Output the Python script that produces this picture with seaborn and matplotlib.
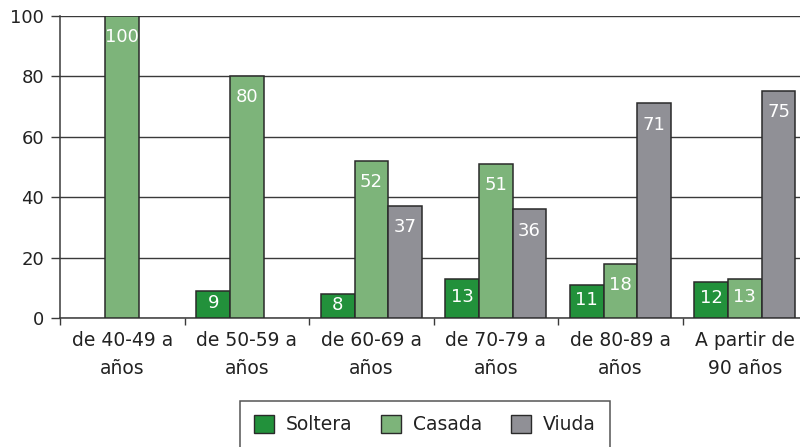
import matplotlib
matplotlib.use("Agg")
import matplotlib.pyplot as plt
import seaborn as sns
import pandas as pd
import numpy as np
from matplotlib.ticker import FixedLocator

categories = ["de 40-49 a\naños", "de 50-59 a\naños", "de 60-69 a\naños",
              "de 70-79 a\naños", "de 80-89 a\naños", "A partir de\n90 años"]
soltera = [np.nan, 9, 8, 13, 11, 12]
casada = [100, 80, 52, 51, 18, 13]
viuda = [np.nan, np.nan, 37, 36, 71, 75]
series_names = ["Soltera", "Casada", "Viuda"]
colors = ["#22913b", "#7db47a", "#909096"]

rows = []
for name, vals in zip(series_names, [soltera, casada, viuda]):
    for c, v in zip(categories, vals):
        rows.append({"cat": c, "serie": name, "val": v})
df = pd.DataFrame(rows)

sns.set_style("white")
plt.rcParams["font.family"] = ["DejaVu Sans"]

fig = plt.figure(figsize=(8, 4.47), dpi=100)
ax = fig.add_axes([0.075, 0.288, 0.934, 0.677])

sns.barplot(data=df, x="cat", y="val", hue="serie", order=categories,
            hue_order=series_names, palette=colors, width=0.81,
            saturation=1, edgecolor="#2a2a2a", linewidth=1.1, ax=ax,
            zorder=3)

for cont in ax.containers:
    for rect, v in zip(cont.patches, cont.datavalues):
        if np.isnan(v):
            continue
        yc = max(v - 7, 0.55 * v)
        ax.text(rect.get_x() + rect.get_width() / 2, yc, f"{v:.0f}",
                ha="center", va="center", color="white", fontsize=13,
                zorder=5)

ax.set_ylim(0, 100)
ax.set_xlim(-0.5, 5.5)
ax.set_yticks([0, 20, 40, 60, 80, 100])
ax.yaxis.grid(True, color="#3a3a3a", linewidth=1.0, zorder=0)
ax.set_axisbelow(True)
ax.tick_params(axis="y", labelsize=13, labelcolor="#222222", length=6.5,
               width=1, color="#3a3a3a", left=True, pad=5)
ax.tick_params(axis="x", which="major", length=0, labelsize=13.5,
               labelcolor="#222222", pad=9.5)
for lbl in ax.get_xticklabels():
    lbl.set_linespacing(1.6)
ax.xaxis.set_minor_locator(FixedLocator([-0.5, 0.5, 1.5, 2.5, 3.5, 4.5, 5.5]))
ax.tick_params(axis="x", which="minor", length=5, width=1, color="#3a3a3a",
               bottom=True)
ax.set_xlabel("")
ax.set_ylabel("")
for s in ["top", "right"]:
    ax.spines[s].set_visible(False)
for s in ["left", "bottom"]:
    ax.spines[s].set_color("#3a3a3a")
    ax.spines[s].set_linewidth(1.1)

ax.legend_.remove()
handles = [plt.Rectangle((0, 0), 1, 1, facecolor=c, edgecolor="#2a2a2a",
                         linewidth=1) for c in colors]
leg = fig.legend(handles, series_names, loc="upper center",
                 bbox_to_anchor=(0.531, 0.103), ncol=3, frameon=True,
                 fontsize=13.5, fancybox=False, edgecolor="#2a2a2a",
                 handlelength=1.07, handleheight=1.07, columnspacing=1.55,
                 borderpad=0.75, handletextpad=0.62, borderaxespad=0)
leg.get_frame().set_linewidth(1.1)
for t in leg.get_texts():
    t.set_color("#222222")

fig.savefig("out.png", dpi=100)
